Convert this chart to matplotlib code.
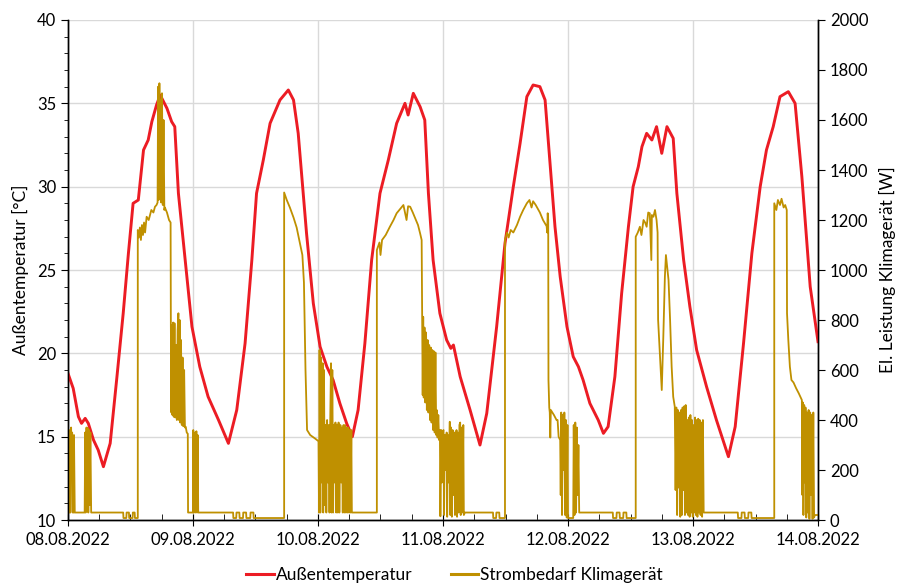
import matplotlib
matplotlib.use("Agg")
import matplotlib.pyplot as plt
import matplotlib.dates as mdates
from matplotlib.ticker import MultipleLocator
from matplotlib.lines import Line2D
import pandas as pd

# ---------------- data ----------------
start_date = "2022-08-08"
end_date = "2022-08-14"

# outdoor temperature: (hours since 08.08.2022 00:00, degC)
temp_points = [
    (0.0, 18.8), (1.0, 17.9), (2.0, 16.2), (2.6, 15.8), (3.3, 16.1), (3.9, 15.8), (4.9, 14.8),
    (5.8, 14.2), (6.8, 13.2), (8.1, 14.6), (9.4, 18.6), (10.6, 22.4), (11.6, 26.0), (12.5, 29.0),
    (13.5, 29.2), (14.5, 32.2), (15.4, 32.8), (16.1, 33.9), (17.0, 34.9), (17.7, 35.5), (19.0, 34.7),
    (19.9, 33.9), (20.5, 33.6), (21.2, 29.6), (22.5, 25.6), (23.8, 21.6), (25.3, 19.2), (26.9, 17.4),
    (28.9, 16.0), (30.8, 14.6), (32.4, 16.6), (34.0, 20.6), (35.3, 25.6), (36.2, 29.6), (37.5, 31.6),
    (38.8, 33.8), (40.7, 35.2), (42.3, 35.8), (43.3, 35.2), (44.2, 33.2), (45.8, 27.2), (47.1, 23.0),
    (48.4, 20.4), (49.7, 19.2), (50.9, 18.4), (52.2, 17.0), (53.5, 15.8), (54.6, 15.0), (55.7, 16.6),
    (57.0, 20.6), (58.3, 25.6), (59.9, 29.6), (61.5, 31.6), (63.1, 33.8), (64.7, 35.0), (65.3, 34.3),
    (66.3, 35.6), (67.6, 34.8), (68.5, 34.0), (69.2, 29.6), (70.1, 25.6), (71.4, 22.4), (72.7, 20.8),
    (73.5, 20.3), (74.0, 20.5), (75.3, 18.6), (77.2, 16.6), (79.1, 14.5), (80.4, 16.4), (82.3, 21.6),
    (83.9, 26.6), (85.5, 30.0), (86.8, 32.6), (88.1, 35.4), (89.3, 36.1), (90.6, 36.0), (91.6, 35.2),
    (92.5, 31.6), (93.5, 27.6), (94.5, 24.6), (95.8, 21.6), (97.0, 19.8), (98.0, 19.2), (98.9, 18.4),
    (100.2, 17.0), (101.8, 16.0), (102.8, 15.2), (103.7, 15.6), (105.0, 18.6), (106.3, 23.6),
    (107.6, 27.6), (108.5, 30.0), (109.5, 31.2), (110.2, 32.4), (111.1, 33.2), (112.1, 32.8),
    (113.0, 33.6), (114.0, 32.0), (115.0, 33.6), (116.2, 32.9), (116.9, 29.6), (118.2, 25.6),
    (119.4, 22.8), (120.7, 20.2), (122.6, 18.0), (124.5, 16.0), (126.8, 13.8), (128.1, 15.6),
    (129.7, 20.6), (131.3, 26.0), (132.9, 30.0), (134.1, 32.2), (135.4, 33.6), (136.7, 35.4),
    (138.3, 35.7), (139.6, 35.0), (140.9, 30.6), (142.5, 24.0), (144.0, 20.7),
]

# AC power demand: (hours since 08.08.2022 00:00, W)
power_points = [
    (0.0, 30), (0.3, 30), (0.35, 360), (0.45, 30), (0.6, 370), (0.7, 200), (0.8, 350), (0.9, 30),
    (1.1, 30), (1.15, 340), (1.3, 30), (3.2, 30), (3.3, 350), (3.4, 30), (3.55, 370), (3.7, 150),
    (3.8, 367), (3.9, 30), (4.05, 360), (4.15, 60), (4.3, 350), (4.45, 30),
    (10.6, 30), (10.65, 8), (11.2, 8), (11.25, 30), (11.7, 30), (11.75, 8), (12.4, 8), (12.45, 30),
    (12.8, 30), (12.85, 8), (13.4, 8),
    (13.4, 1160), (13.6, 1130), (13.8, 1170), (14.0, 1120), (14.2, 1180), (14.4, 1140), (14.6, 1190),
    (14.8, 1150), (15.1, 1213), (15.5, 1200), (16.0, 1240), (16.4, 1230), (16.7, 1253), (17.0, 1260),
    (17.2, 1270), (17.3, 1733), (17.4, 1280), (17.55, 1747), (17.7, 1300), (17.8, 1680), (17.9, 1270),
    (18.05, 1707), (18.2, 1260), (18.35, 1600), (18.5, 1240), (18.6, 1250), (19.0, 1230), (19.4, 1200),
    (19.7, 1190),
    (19.75, 773), (19.85, 430), (19.95, 780), (20.05, 420), (20.2, 790), (20.3, 413), (20.45, 787),
    (20.6, 410), (20.75, 700), (20.9, 400), (21.05, 760), (21.2, 827), (21.3, 400), (21.45, 800),
    (21.55, 390), (21.7, 720), (21.85, 380), (22.0, 650), (22.15, 375), (22.3, 600), (22.45, 370),
    (22.6, 373), (22.8, 350), (23.0, 345), (23.05, 30),
    (24.0, 30), (24.05, 360), (24.15, 30), (24.35, 350), (24.45, 30), (24.65, 355), (24.75, 30),
    (24.9, 340), (25.0, 30),
    (31.7, 30), (31.75, 8), (32.3, 8), (32.35, 30), (32.9, 30), (32.95, 8), (33.6, 8), (33.65, 30),
    (34.2, 30), (34.25, 8), (35.0, 8), (35.05, 30), (35.6, 30), (35.65, 8), (41.5, 8),
    (41.5, 1310), (42.0, 1280), (42.6, 1250), (43.3, 1210), (43.9, 1170), (44.5, 1110), (45.0, 1060),
    (45.3, 950), (45.6, 600), (45.9, 360), (46.5, 340), (47.5, 325), (48.1, 315),
    (48.2, 30), (48.3, 680), (48.45, 30), (48.6, 650), (48.75, 150), (48.9, 627), (49.0, 30),
    (49.15, 600), (49.3, 60), (49.45, 380), (49.6, 30), (49.75, 400), (49.9, 150), (50.05, 380),
    (50.2, 30), (50.35, 400), (50.5, 627), (50.6, 30), (50.75, 600), (50.9, 30), (51.05, 380),
    (51.2, 150), (51.35, 390), (51.5, 30), (51.65, 380), (51.8, 30), (51.95, 390), (52.1, 30),
    (52.3, 380), (52.45, 150), (52.6, 370), (52.75, 30), (52.9, 380), (53.05, 30), (53.2, 380),
    (53.35, 30), (53.5, 370), (53.65, 30), (53.8, 370), (53.95, 30), (54.1, 360), (54.25, 30),
    (54.4, 360), (54.5, 30),
    (59.3, 30), (59.3, 1080), (59.8, 1110), (60.0, 1060), (60.3, 1120), (61.0, 1140), (61.8, 1173),
    (62.5, 1200), (63.1, 1227), (63.8, 1245), (64.4, 1260), (64.7, 1230), (65.0, 1200), (65.3, 1255),
    (65.7, 1253), (66.2, 1230), (66.6, 1210), (67.2, 1180), (67.6, 1147), (67.9, 1120),
    (68.0, 800), (68.1, 500), (68.2, 813), (68.3, 490), (68.45, 770), (68.6, 470), (68.75, 750),
    (68.9, 440), (69.05, 720), (69.2, 430), (69.35, 700), (69.5, 400), (69.65, 690), (69.8, 390),
    (69.95, 680), (70.1, 360), (70.25, 675), (70.4, 350), (70.55, 670), (70.7, 340), (70.8, 440),
    (70.95, 330), (71.1, 420), (71.25, 320), (71.4, 360),
    (71.5, 15), (71.65, 360), (71.8, 150), (71.95, 355), (72.1, 360), (72.2, 20), (72.35, 340),
    (72.5, 200), (72.7, 350), (72.8, 13), (72.95, 340), (73.1, 150), (73.3, 393), (73.4, 20),
    (73.55, 370), (73.7, 13), (73.85, 360), (74.0, 100), (74.15, 350), (74.3, 20), (74.45, 340),
    (74.6, 360), (74.7, 13), (74.85, 350), (75.0, 30), (75.15, 380), (75.3, 390), (75.4, 20),
    (75.55, 370), (75.7, 30), (75.9, 380), (76.0, 20), (76.2, 30),
    (81.6, 30), (81.65, 8), (82.2, 8), (82.25, 30), (82.8, 30), (82.85, 8), (83.9, 8),
    (83.9, 1120), (84.3, 1150), (84.6, 1130), (85.0, 1160), (85.5, 1150), (86.2, 1180), (86.8, 1213),
    (87.4, 1240), (88.1, 1267), (88.6, 1280), (89.0, 1250), (89.3, 1275), (89.8, 1260), (90.6, 1230),
    (91.2, 1200), (91.9, 1175), (92.0, 1150), (92.1, 1227), (92.2, 1200), (92.25, 560), (92.4, 450),
    (92.5, 430), (92.6, 330), (92.7, 440), (93.3, 420), (93.8, 400), (94.0, 400), (94.2, 333),
    (94.5, 320),
    (94.6, 100), (94.7, 430), (94.85, 20), (95.0, 420), (95.15, 200), (95.3, 430), (95.45, 20),
    (95.6, 400), (95.75, 10), (95.9, 380), (96.0, 8),
    (97.0, 8), (97.1, 380), (97.25, 20), (97.4, 390), (97.55, 30), (97.7, 370), (97.85, 100),
    (98.0, 300), (98.15, 30), (98.3, 30),
    (104.6, 30), (104.65, 8), (105.3, 8), (105.35, 30), (105.9, 30), (105.95, 8), (106.6, 8),
    (106.65, 30), (107.2, 30), (107.25, 8), (109.0, 8),
    (109.0, 1133), (109.4, 1150), (109.8, 1173), (110.1, 1140), (110.5, 1200), (110.8, 1190),
    (111.1, 1173), (111.4, 1230), (111.7, 1227), (112.0, 1040), (112.1, 1220), (112.4, 1213),
    (112.7, 1240), (113.0, 1200), (113.2, 1150),
    (113.3, 800), (113.5, 720), (114.0, 520), (114.3, 733), (114.6, 973), (114.8, 1060),
    (115.0, 1020), (115.3, 960), (115.6, 800), (115.9, 613), (116.2, 493), (116.5, 453),
    (116.65, 120), (116.8, 450), (116.95, 20), (117.1, 440), (117.25, 130), (117.4, 430),
    (117.55, 13), (117.7, 440), (117.85, 20), (118.0, 450), (118.15, 120), (118.3, 455),
    (118.45, 20), (118.6, 460), (118.75, 30), (118.9, 400), (119.05, 20), (119.2, 410),
    (119.35, 13), (119.5, 420), (119.65, 30), (119.8, 400), (119.95, 13), (120.1, 380),
    (120.25, 30), (120.4, 410), (120.55, 20), (120.7, 400), (120.85, 13), (121.0, 405),
    (121.15, 30), (121.3, 400), (121.45, 20), (121.6, 390), (121.75, 13), (121.9, 400),
    (122.05, 30), (122.3, 30),
    (128.6, 30), (128.65, 8), (129.3, 8), (129.35, 30), (129.9, 30), (129.95, 8), (130.6, 8),
    (130.65, 30), (131.2, 30), (131.25, 8), (135.6, 8),
    (135.6, 1267), (136.0, 1240), (136.3, 1280), (136.7, 1260), (137.0, 1285), (137.4, 1250),
    (137.7, 1260), (138.0, 1240), (138.05, 827), (138.3, 720), (138.6, 613), (138.9, 560),
    (139.3, 550), (139.8, 527), (140.3, 507), (140.9, 480),
    (141.0, 100), (141.1, 470), (141.2, 20), (141.35, 460), (141.5, 150), (141.6, 450),
    (141.75, 10), (141.9, 430), (142.05, 30), (142.2, 440), (142.35, 5), (142.5, 430),
    (142.65, 100), (142.8, 420), (142.95, 5), (143.1, 430), (143.25, 10), (143.4, 20), (144.0, 20),
]

temp_label = "Außentemperatur"
power_label = "Strombedarf Klimagerät"
left_ylabel = "Außentemperatur [°C]"
right_ylabel = "El. Leistung Klimagerät [W]"

# ---------------- plotting ----------------
plt.rcParams["font.family"] = ["Lato", "DejaVu Sans"]
RED = "#ec1c24"
GOLD = "#bf9000"
GRID = "#d9d9d9"

t0 = pd.Timestamp(start_date)
temp_t = [t0 + pd.Timedelta(hours=h) for h, _ in temp_points]
temp_v = [v for _, v in temp_points]
pow_t = [t0 + pd.Timedelta(hours=h) for h, _ in power_points]
pow_v = [v for _, v in power_points]

fig = plt.figure(figsize=(9.09, 5.88), dpi=100)
ax = fig.add_axes([0.0748, 0.1156, 0.8251, 0.8504])
ax2 = ax.twinx()

ax.plot(temp_t, temp_v, color=RED, lw=2.1, zorder=3, solid_joinstyle="round")
ax2.plot(pow_t, pow_v, color=GOLD, lw=1.3, zorder=2)

ax.set_xlim(pd.Timestamp(start_date), pd.Timestamp(end_date))
ax.set_ylim(10, 40)
ax2.set_ylim(0, 2000)

ax.yaxis.set_major_locator(MultipleLocator(5))
ax.yaxis.set_minor_locator(MultipleLocator(1))
ax2.yaxis.set_major_locator(MultipleLocator(200))
ax.xaxis.set_major_locator(mdates.DayLocator())
ax.xaxis.set_minor_locator(mdates.HourLocator(byhour=[6, 12, 18]))
ax.xaxis.set_major_formatter(mdates.DateFormatter("%d.%m.%Y"))

ax.grid(True, which="major", color=GRID, lw=1.0)
ax.set_axisbelow(True)

for a in (ax, ax2):
    a.spines["top"].set_visible(False)
    for s in ("left", "right", "bottom"):
        a.spines[s].set_color("#000000")
        a.spines[s].set_linewidth(1.0)

ax.tick_params(axis="both", which="major", labelsize=12, length=5, direction="out", color="black")
ax.tick_params(axis="y", which="minor", length=3, direction="out")
ax.tick_params(axis="x", which="minor", length=4, direction="in")
ax.tick_params(axis="x", which="major", length=9, direction="inout", pad=4)
ax2.tick_params(axis="y", which="major", labelsize=12, length=5, direction="out")

ax.set_ylabel(left_ylabel, fontsize=12.5, labelpad=6)
ax2.set_ylabel(right_ylabel, fontsize=12.5, labelpad=8)

handles = [Line2D([], [], color=RED, lw=2.2), Line2D([], [], color=GOLD, lw=2.2)]
fig.legend(handles, [temp_label, power_label], loc="center", bbox_to_anchor=(0.5, 0.022),
           ncol=2, frameon=False, fontsize=12.5, handlelength=1.6, handletextpad=0.1,
           columnspacing=2.2)

fig.savefig("out.png", dpi=100)
